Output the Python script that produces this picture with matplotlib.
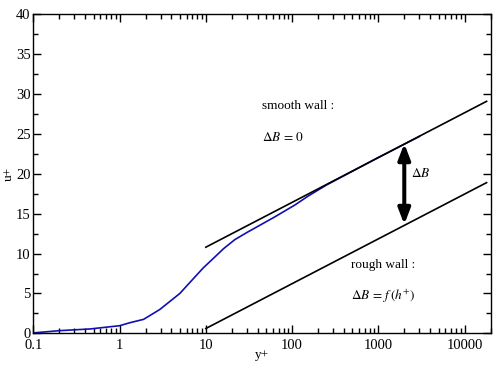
import matplotlib
matplotlib.use("Agg")
import matplotlib.pyplot as plt
from matplotlib.ticker import LogLocator, MultipleLocator, FixedLocator, FixedFormatter

plt.rcParams['font.family'] = ['Liberation Serif', 'DejaVu Serif']
plt.rcParams['mathtext.fontset'] = 'stix'

# Blue velocity profile
profile_x = [0.1, 0.2, 0.45, 1.0, 1.32, 1.9, 2.94, 5.0, 6.5, 9.33, 12.8, 16, 21.7, 30, 37, 63, 108, 153, 250, 1000, 3000]
profile_y = [0.05, 0.33, 0.54, 0.95, 1.33, 1.75, 3.0, 5.0, 6.35, 8.2, 9.6, 10.6, 11.75, 12.65, 13.2, 14.6, 16.1, 17.2, 18.6, 22.05, 24.7]

# Log-law lines
line_x = [10, 18000]
smooth_y = [10.8, 29.1]
rough_y = [0.6, 18.9]

# Arrow (Delta B)
arrow_x = 2000
arrow_top = 23.8
arrow_bottom = 13.65

xticks = [0.1, 1, 10, 100, 1000, 10000]
xticklabels = ['0.1', '1', '10', '100', '1000', '10000']
yticks = [0, 5, 10, 15, 20, 25, 30, 35, 40]

fig = plt.figure(figsize=(4.98, 3.70), dpi=100)
ax = fig.add_axes([0.0669, 0.0992, 0.985 - 0.0669, 0.961 - 0.0992])

ax.plot(profile_x, profile_y, color='#1010b0', lw=1.2, zorder=2)
ax.plot(line_x, smooth_y, color='black', lw=1.2, zorder=3)
ax.plot(line_x, rough_y, color='black', lw=1.2, zorder=3)

ax.annotate('', xy=(arrow_x, arrow_top), xytext=(arrow_x, arrow_bottom),
            arrowprops=dict(arrowstyle='<|-|>,head_length=0.94,head_width=0.36', lw=2.9, color='black',
                            mutation_scale=10, shrinkA=0, shrinkB=0), zorder=4)

ax.set_xscale('log')
ax.set_xlim(0.1, 20000)
ax.set_ylim(0, 40)

ax.xaxis.set_major_locator(FixedLocator(xticks))
ax.xaxis.set_major_formatter(FixedFormatter(xticklabels))
ax.xaxis.set_minor_locator(LogLocator(base=10, subs=range(2, 10), numticks=20))
ax.xaxis.set_minor_formatter(plt.NullFormatter())
ax.yaxis.set_major_locator(FixedLocator(yticks))
ax.yaxis.set_minor_locator(MultipleLocator(2.5))

ax.tick_params(which='both', direction='in', top=True, right=True, labelsize=10.5)
ax.tick_params(axis='x', pad=4)
ax.tick_params(axis='y', pad=2)
ax.tick_params(which='major', length=6, width=1)
ax.tick_params(which='minor', length=3.5, width=1)
for s in ax.spines.values():
    s.set_linewidth(1.0)

ax.set_xlabel('y+', fontsize=9.5)
ax.set_ylabel('u+', fontsize=9.5)
ax.xaxis.set_label_coords(0.5, -0.05)
ax.yaxis.set_label_coords(-0.041, 0.5)

fs = 9.5
ax.text(44.7, 28.5, 'smooth wall :', fontsize=fs, va='center', ha='left')
ax.text(44.7, 24.6, r'$\Delta B\,=\,0$', fontsize=fs, va='center', ha='left')
ax.text(2380, 20.1, r'$\Delta B$', fontsize=fs, va='center', ha='left')
ax.text(479, 8.56, 'rough wall :', fontsize=fs, va='center', ha='left')
ax.text(479, 4.68, r'$\Delta B\,=\,f\,(h^{+})$', fontsize=fs, va='center', ha='left')

fig.savefig('out.png', dpi=100)
